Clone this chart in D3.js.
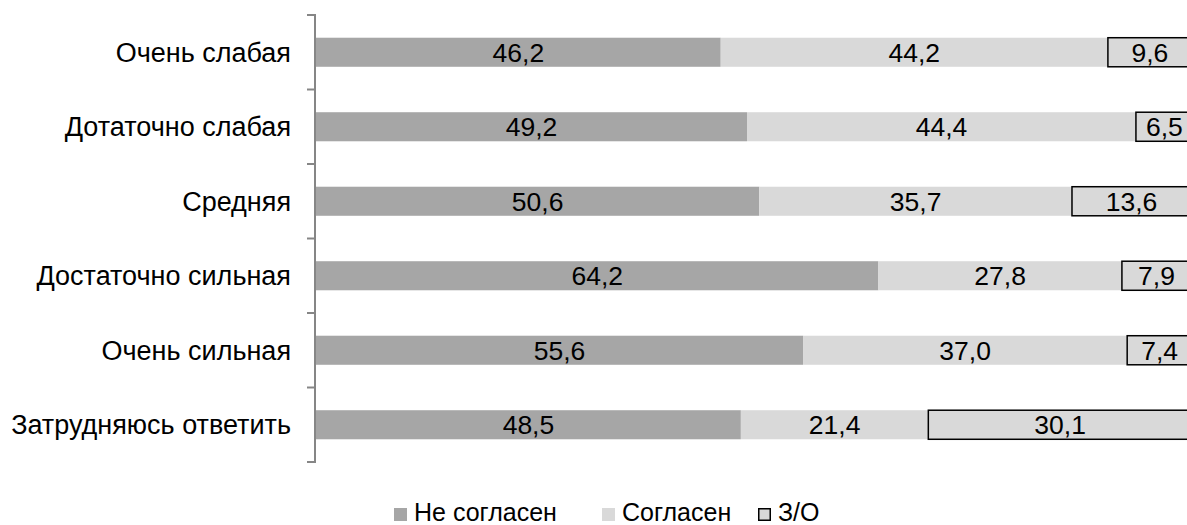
<!DOCTYPE html>
<html><head><meta charset="utf-8">
<script src="https://cdn.jsdelivr.net/npm/d3@7"></script>
<style>body{margin:0;background:#fff;overflow:hidden}svg{display:block}</style>
</head><body>
<svg id="c" width="1187" height="525"></svg>
<script>
const categories = ["Очень слабая","Дотаточно слабая","Средняя","Достаточно сильная","Очень сильная","Затрудняюсь ответить"];
const disagree = [46.2,49.2,50.6,64.2,55.6,48.5];
const agree = [44.2,44.4,35.7,27.8,37.0,21.4];
const hardToSay = [9.6,6.5,13.6,7.9,7.4,30.1];
const seriesNames = ["Не согласен","Согласен","З/О"];

const svg = d3.select("#c");
const font = "Liberation Sans, Arial, sans-serif";
const x = d3.scaleLinear().domain([0,100]).range([316,1192]);
const y = d3.scaleBand().domain(categories).range([15,462]).paddingInner(0.61).paddingOuter(0.305);
const yTicks = d3.scaleBand().domain(categories).range([15,462]);

const series = [
  {name: seriesNames[0], vals: disagree, fill:"#a6a6a6", stroke:null},
  {name: seriesNames[1], vals: agree, fill:"#d9d9d9", stroke:null},
  {name: seriesNames[2], vals: hardToSay, fill:"#d9d9d9", stroke:"#000"}
];

categories.forEach((c,i)=>{
  let acc = 0;
  series.forEach(s=>{
    const v = s.vals[i];
    const x0 = x(acc), x1 = x(acc+v);
    const r = svg.append("rect").attr("x",x0).attr("y",y(c)).attr("width",x1-x0).attr("height",y.bandwidth()).attr("fill",s.fill);
    if (s.stroke) r.attr("stroke",s.stroke).attr("stroke-width",1.5);
    svg.append("text").attr("x",(x0+x1)/2).attr("y",y(c)+y.bandwidth()/2).attr("dy","0.36em")
      .attr("text-anchor","middle").attr("font-family",font).attr("font-size",26.5).attr("fill","#000")
      .text(v.toFixed(1).replace(".",","));
    acc += v;
  });
});

// axis
const ax = svg.append("g").attr("stroke","#868686").attr("stroke-width",2).attr("fill","none");
ax.append("line").attr("x1",315).attr("x2",315).attr("y1",15).attr("y2",462);
const tickYs = categories.map(c=>yTicks(c)).concat([462]);
tickYs.forEach(t=>ax.append("line").attr("x1",307).attr("x2",316).attr("y1",t).attr("y2",t));

categories.forEach(c=>{
  svg.append("text").attr("x",291).attr("y",yTicks(c)+yTicks.bandwidth()/2).attr("dy","0.36em")
    .attr("text-anchor","end").attr("font-family",font).attr("font-size",27).attr("fill","#000").text(c);
});

// legend
const legendX = [394,602,758];
series.forEach((s,i)=>{
  const g = svg.append("g").attr("transform",`translate(${legendX[i]},0)`);
  const r = g.append("rect").attr("x",0).attr("y",508).attr("width",13).attr("height",13).attr("fill",s.fill);
  if (s.stroke) r.attr("x",0.75).attr("y",508.75).attr("width",11.5).attr("height",11.5).attr("stroke",s.stroke).attr("stroke-width",1.5);
  g.append("text").attr("x",20).attr("y",520.5).attr("font-family",font).attr("font-size",25).attr("fill","#000").text(s.name);
});
</script>
</body></html>
